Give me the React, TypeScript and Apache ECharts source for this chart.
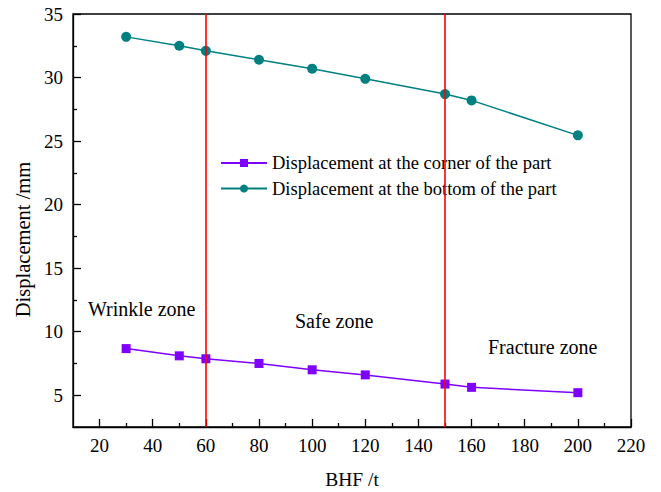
import React, { useEffect, useRef } from "react";
import * as echarts from "echarts";

const bhf = [30, 50, 60, 80, 100, 120, 150, 160, 200];
const cornerDisp = [8.67, 8.1, 7.87, 7.5, 7.0, 6.6, 5.88, 5.62, 5.2];
const bottomDisp = [33.2, 32.5, 32.1, 31.4, 30.7, 29.9, 28.7, 28.2, 25.45];
const xMajorTicks = [20, 40, 60, 80, 100, 120, 140, 160, 180, 200, 220];
const xMinorTicks = [30, 50, 70, 90, 110, 130, 150, 170, 190, 210];
const yMajorTicks = [5, 10, 15, 20, 25, 30, 35];
const yMinorTicks = [7.5, 12.5, 17.5, 22.5, 27.5, 32.5];
const zoneLines = [60, 150];
const seriesNames = [
  "Displacement at the corner of the part",
  "Displacement at the bottom of the part",
];
const zoneLabels = ["Wrinkle zone", "Safe zone", "Fracture zone"];

const FONT = "'Liberation Serif', 'Times New Roman', serif";

export default function App() {
  const ref = useRef<HTMLDivElement>(null);
  useEffect(() => {
    document.body.style.margin = "0";
    const chart = echarts.init(ref.current!, null, { renderer: "svg" });
    const pair = (ys: number[]) => bhf.map((x, i) => [x, ys[i]]);
    chart.setOption({
      animation: false,
      backgroundColor: "#fff",
      textStyle: { fontFamily: FONT, color: "#000" },
      grid: {
        left: 73,
        right: 30,
        top: 14,
        bottom: 65,
        outerBoundsMode: "none",
        containLabel: false,
        show: true,
        borderColor: "#000",
        borderWidth: 1.3,
      },
      legend: {
        orient: "vertical",
        left: 215,
        top: 148.5,
        itemWidth: 46,
        itemHeight: 10,
        itemGap: 6.5,
        textStyle: { fontFamily: FONT, fontSize: 18.5, color: "#000" },
        data: seriesNames,
      },
      xAxis: [
        {
          type: "value",
          min: 10,
          max: 220,
          name: "BHF /t",
          nameLocation: "middle",
          nameGap: 42,
          nameTextStyle: { fontFamily: FONT, fontSize: 19.5, color: "#000" },
          axisLine: { show: true, lineStyle: { color: "#000", width: 1.3 } },
          axisTick: {
            show: true,
            inside: true,
            length: 8,
            customValues: xMajorTicks,
            lineStyle: { color: "#000", width: 1.3 },
          },
          axisLabel: {
            customValues: xMajorTicks,
            margin: 9,
            fontFamily: FONT,
            fontSize: 19,
            color: "#000",
          },
          splitLine: { show: false },
        },
        {
          type: "value",
          min: 10,
          max: 220,
          position: "bottom",
          axisLine: { show: false },
          axisTick: {
            show: true,
            inside: true,
            length: 4,
            customValues: xMinorTicks,
            lineStyle: { color: "#000", width: 1.3 },
          },
          axisLabel: { show: false },
          splitLine: { show: false },
        },
      ],
      yAxis: [
        {
          type: "value",
          min: 2.5,
          max: 35,
          name: "Displacement /mm",
          nameLocation: "middle",
          nameGap: 27,
          nameTextStyle: {
            fontFamily: FONT,
            fontSize: 20.5,
            color: "#000",
            padding: [0, 38, 0, 0],
          },
          axisLine: { show: true, lineStyle: { color: "#000", width: 1.3 } },
          axisTick: {
            show: true,
            inside: true,
            length: 8,
            customValues: yMajorTicks,
            lineStyle: { color: "#000", width: 1.3 },
          },
          axisLabel: {
            customValues: yMajorTicks,
            margin: 10,
            fontFamily: FONT,
            fontSize: 19,
            color: "#000",
          },
          splitLine: { show: false },
        },
        {
          type: "value",
          min: 2.5,
          max: 35,
          position: "left",
          axisLine: { show: false },
          axisTick: {
            show: true,
            inside: true,
            length: 4,
            customValues: yMinorTicks,
            lineStyle: { color: "#000", width: 1.3 },
          },
          axisLabel: { show: false },
          splitLine: { show: false },
        },
      ],
      series: [
        {
          name: seriesNames[0],
          type: "line",
          data: pair(cornerDisp),
          symbol: "rect",
          symbolSize: 9,
          color: "#7F00FF",
          lineStyle: { width: 1.5, color: "#7F00FF" },
          itemStyle: { color: "#7F00FF" },
          z: 3,
          markLine: {
            silent: true,
            symbol: "none",
            label: { show: false },
            lineStyle: { color: "#FF0000", width: 1.6, type: "solid" },
            data: zoneLines.map((v) => ({ xAxis: v })),
          },
        },
        {
          name: seriesNames[1],
          type: "line",
          data: pair(bottomDisp),
          symbol: "circle",
          symbolSize: 10,
          color: "#008080",
          lineStyle: { width: 1.5, color: "#008080" },
          itemStyle: { color: "#008080" },
          z: 3,
        },
      ],
      graphic: [
        {
          type: "text",
          left: 88,
          top: 299,
          style: { text: zoneLabels[0], font: `20px ${FONT}`, fill: "#000" },
        },
        {
          type: "text",
          left: 295,
          top: 311,
          style: { text: zoneLabels[1], font: `20px ${FONT}`, fill: "#000" },
        },
        {
          type: "text",
          left: 488,
          top: 337,
          style: { text: zoneLabels[2], font: `20px ${FONT}`, fill: "#000" },
        },
      ],
    });
    return () => chart.dispose();
  }, []);
  return <div ref={ref} style={{ width: 661, height: 492 }} />;
}
